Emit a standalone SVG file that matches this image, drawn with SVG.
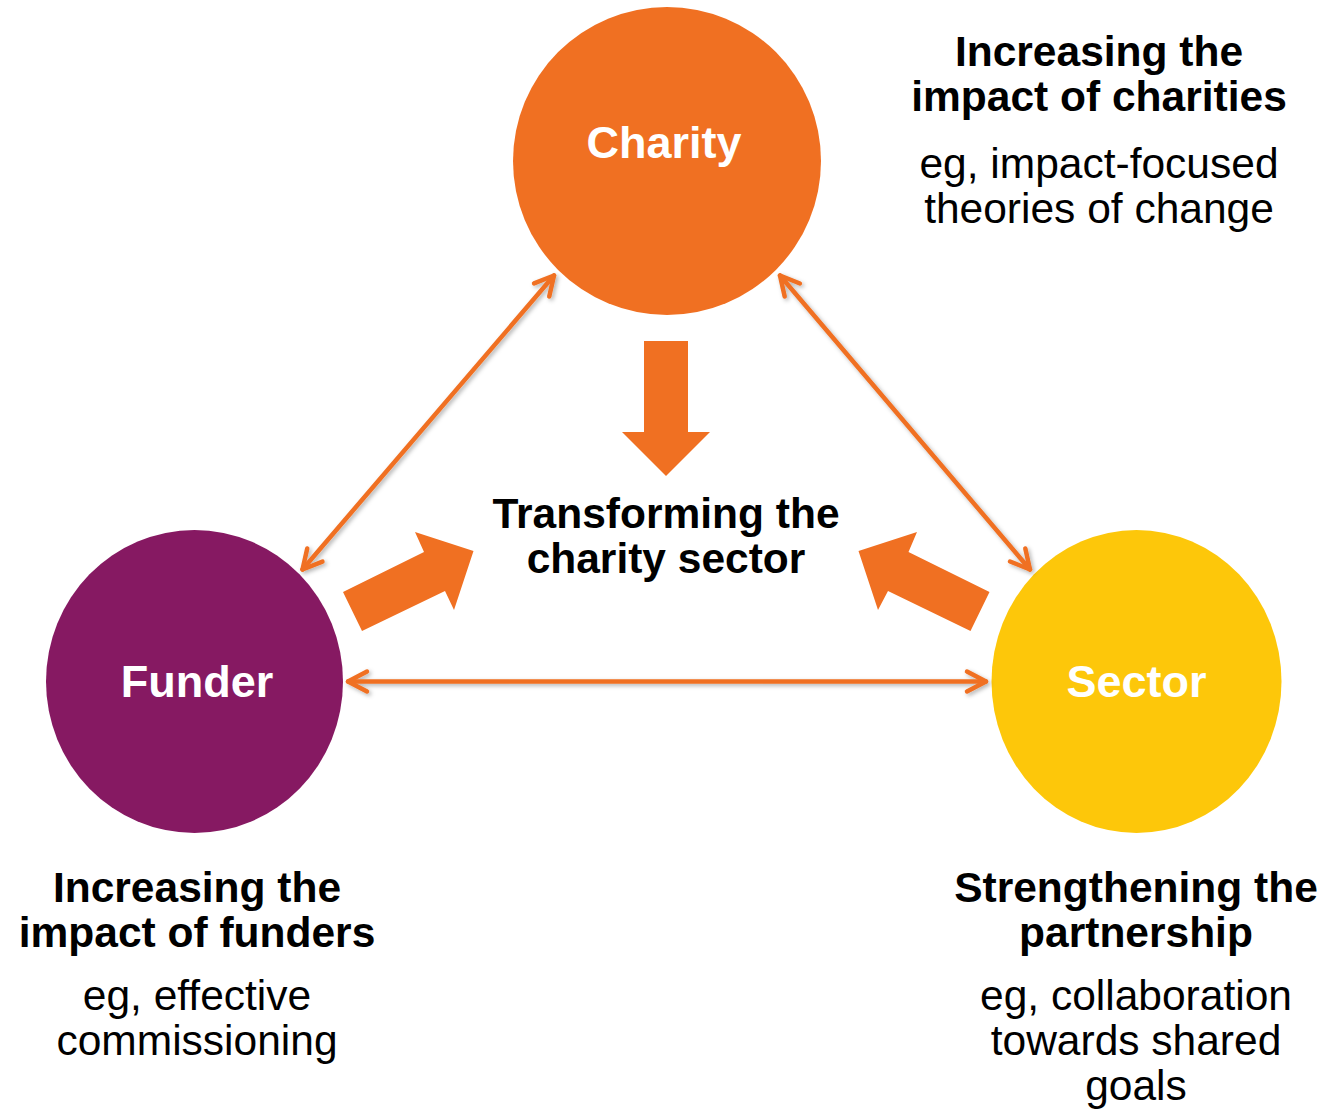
<svg xmlns="http://www.w3.org/2000/svg" width="1328" height="1112" viewBox="0 0 1328 1112">
  <style>
    .bold { font-family: "Liberation Sans", Arial, sans-serif; font-weight: bold; font-size: 42.5px; fill: #000; text-anchor: middle; }
    .reg { font-family: "Liberation Sans", Arial, sans-serif; font-size: 42.5px; fill: #000; text-anchor: middle; }
    .node { font-family: "Liberation Sans", Arial, sans-serif; font-weight: bold; font-size: 45px; fill: #fff; text-anchor: middle; }
    .conn { stroke: #F07022; stroke-width: 4.5; fill: none; stroke-linecap: round; marker-start: url(#head); marker-end: url(#head); }
    .block { fill: #F07022; }
  </style>
  <defs>
    <marker id="head" markerUnits="userSpaceOnUse" viewBox="-24 -14 28 28" refX="0" refY="0" markerWidth="28" markerHeight="28" orient="auto-start-reverse">
      <path d="M -19,-10 L 0,0 L -19,10" fill="none" stroke="#F07022" stroke-width="4.5" stroke-linecap="round" stroke-linejoin="round"/>
    </marker>
    <filter id="shadow" x="-10%" y="-10%" width="120%" height="120%">
      <feDropShadow dx="2" dy="2" stdDeviation="2" flood-color="#000" flood-opacity="0.3"/>
    </filter>
  </defs>
  <rect width="1328" height="1112" fill="#fff"/>

  <g id="charity">
    <circle cx="667" cy="161" r="154" fill="#F07022"/>
    <text class="node" x="664" y="158">Charity</text>
  </g>
  <g id="funder">
    <ellipse cx="194.5" cy="681.5" rx="148.5" ry="151.5" fill="#861962"/>
    <text class="node" x="197" y="697">Funder</text>
  </g>
  <g id="sector">
    <ellipse cx="1136.5" cy="681.5" rx="145" ry="151.5" fill="#FDC70A"/>
    <text class="node" x="1136.5" y="697">Sector</text>
  </g>

  <g id="connectors" filter="url(#shadow)">
    <line class="conn" x1="554" y1="275.5" x2="302.5" y2="569.5"/>
    <line class="conn" x1="780" y1="275.5" x2="1030" y2="569.5"/>
    <line class="conn" x1="348" y1="681.5" x2="986" y2="681.5"/>
  </g>

  <g id="block-arrows">
    <polygon class="block" points="644,341 688,341 688,432 710,432 666,476 622,432 644,432"/>
    <polygon class="block" points="343,592 424,552 415,532 473.5,551 454,610 445,591 362,631"/>
    <polygon class="block" points="989.5,592 908.5,552 917,532 858.5,551 878,610 888,591 970.5,631"/>
  </g>

  <g id="center-label">
    <text class="bold" x="666" y="528">Transforming the</text>
    <text class="bold" x="666" y="573">charity sector</text>
  </g>

  <g id="charity-note">
    <text class="bold" x="1099" y="66">Increasing the</text>
    <text class="bold" x="1099" y="111">impact of charities</text>
    <text class="reg" x="1099" y="178">eg, impact-focused</text>
    <text class="reg" x="1099" y="223">theories of change</text>
  </g>

  <g id="funder-note">
    <text class="bold" x="197" y="902">Increasing the</text>
    <text class="bold" x="197" y="947">impact of funders</text>
    <text class="reg" x="197" y="1010">eg, effective</text>
    <text class="reg" x="197" y="1055">commissioning</text>
  </g>

  <g id="sector-note">
    <text class="bold" x="1136" y="902">Strengthening the</text>
    <text class="bold" x="1136" y="947">partnership</text>
    <text class="reg" x="1136" y="1010">eg, collaboration</text>
    <text class="reg" x="1136" y="1055">towards shared</text>
    <text class="reg" x="1136" y="1100">goals</text>
  </g>
</svg>
